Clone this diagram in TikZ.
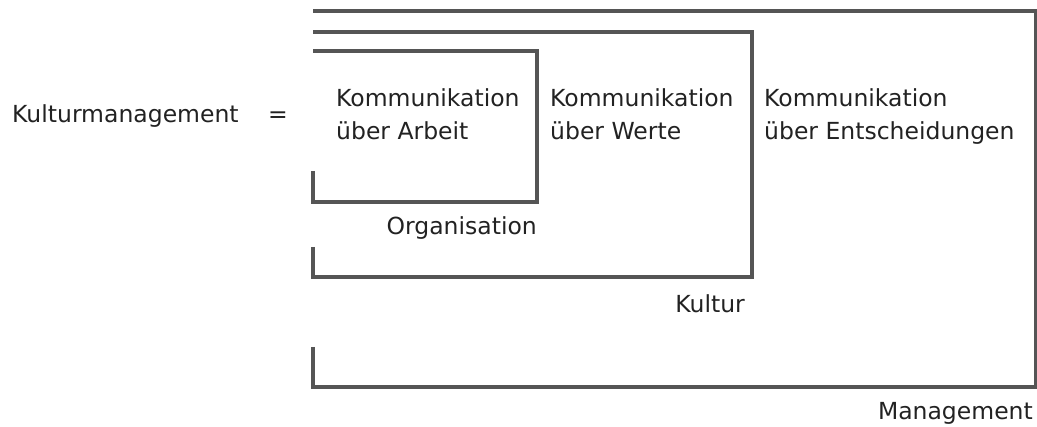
\documentclass[tikz,border=0pt]{standalone}
\usepackage{fontspec}
\setmainfont{DejaVu Sans}
\definecolor{linegray}{HTML}{555555}
\definecolor{txt}{HTML}{222222}
\begin{document}
\begin{tikzpicture}[x=1pt,y=-1pt,
  lbl/.style={inner sep=0pt,text=txt,font=\fontsize{23.5}{33}\selectfont,align=left},
  bracket/.style={draw=linegray,line width=3.2pt,line join=miter}]
\useasboundingbox (0,0) rectangle (1037,427);
% brackets
\draw[bracket] (313,347) -- (313,387) -- (1036,387) -- (1036,11) -- (313,11);
\draw[bracket] (313,247) -- (313,277) -- (752,277) -- (752,32) -- (313,32);
\draw[bracket] (313,171) -- (313,202) -- (537,202) -- (537,51) -- (313,51);
% texts
\node[lbl,anchor=base west] (km) at (12,123) {Kulturmanagement};
\node[lbl,anchor=base west] (eq) at (268,123) {=};
\node[lbl,anchor=base west] (arb) at (336,140) {Kommunikation\\über Arbeit};
\node[lbl,anchor=base west] (wer) at (550,140) {Kommunikation\\über Werte};
\node[lbl,anchor=base west] (ent) at (764,140) {Kommunikation\\über Entscheidungen};
\node[lbl,anchor=base east] (org) at (537,235) {Organisation};
\node[lbl,anchor=base east] (kul) at (745,313) {Kultur};
\node[lbl,anchor=base east] (man) at (1033,420) {Management};
\end{tikzpicture}
\end{document}
